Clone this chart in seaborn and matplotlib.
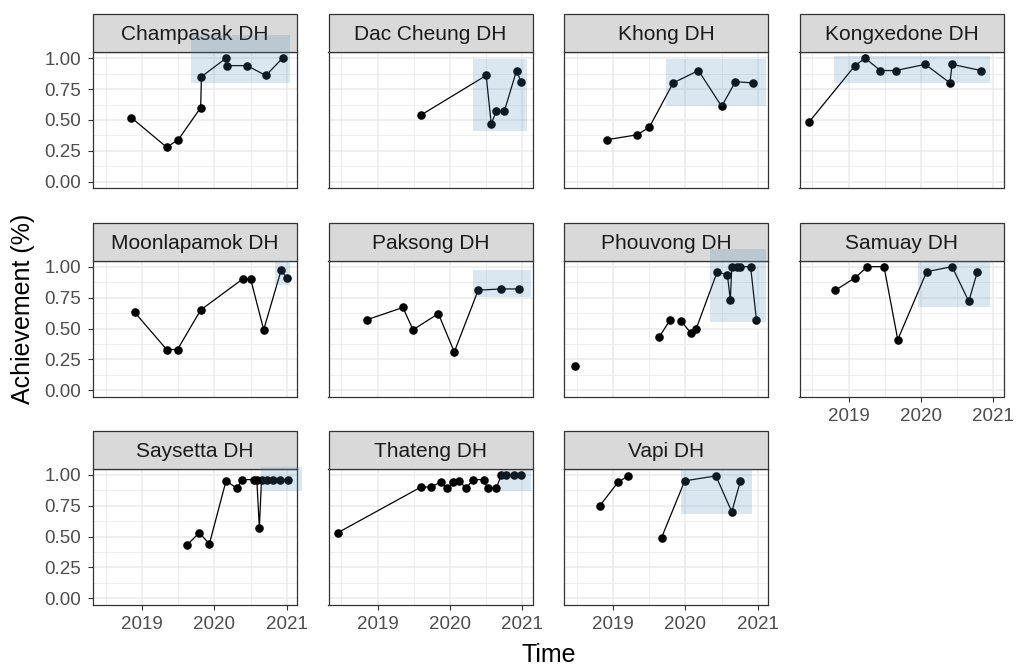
import matplotlib
matplotlib.use("Agg")
import matplotlib.pyplot as plt
from matplotlib.patches import Rectangle
from matplotlib.ticker import FixedLocator
import seaborn as sns
import numpy as np
import pandas as pd

# ---------------- data ----------------
districts = ["Champasak DH", "Dac Cheung DH", "Khong DH", "Kongxedone DH",
             "Moonlapamok DH", "Paksong DH", "Phouvong DH", "Samuay DH",
             "Saysetta DH", "Thateng DH", "Vapi DH"]

champasak_time = [2018.85, 2019.34, 2019.50, 2019.81, 2019.82, 2020.16, 2020.18, 2020.45, 2020.71, 2020.94]
champasak_value = [0.52, 0.28, 0.34, 0.60, 0.85, 1.00, 0.94, 0.94, 0.86, 1.00]
champasak_seg = [0] * 10

dac_time = [2019.60, 2020.50, 2020.57, 2020.64, 2020.75, 2020.92, 2020.98]
dac_value = [0.54, 0.86, 0.47, 0.57, 0.57, 0.90, 0.81]
dac_seg = [0] * 7

khong_time = [2018.91, 2019.33, 2019.50, 2019.83, 2020.18, 2020.50, 2020.69, 2020.93]
khong_value = [0.34, 0.38, 0.44, 0.80, 0.90, 0.61, 0.81, 0.80]
khong_seg = [0] * 8

kongx_time = [2018.45, 2019.09, 2019.23, 2019.44, 2019.65, 2020.06, 2020.40, 2020.43, 2020.83]
kongx_value = [0.48, 0.94, 1.00, 0.90, 0.90, 0.95, 0.80, 0.95, 0.90]
kongx_seg = [0] * 9

moon_time = [2018.90, 2019.34, 2019.49, 2019.81, 2020.39, 2020.50, 2020.68, 2020.92, 2021.00]
moon_value = [0.63, 0.33, 0.33, 0.65, 0.90, 0.90, 0.49, 0.97, 0.91]
moon_seg = [0] * 9

paksong_time = [2018.85, 2019.35, 2019.49, 2019.84, 2020.06, 2020.39, 2020.71, 2020.95]
paksong_value = [0.57, 0.67, 0.49, 0.62, 0.31, 0.81, 0.82, 0.82]
paksong_seg = [0] * 8

phouvong_time = [2018.48, 2019.635, 2019.79, 2019.94, 2020.08, 2020.15, 2020.44, 2020.58,
                 2020.62, 2020.64, 2020.71, 2020.76, 2020.90, 2020.98]
phouvong_value = [0.20, 0.43, 0.57, 0.56, 0.46, 0.50, 0.96, 0.93, 0.73, 1.00, 1.00, 1.00, 1.00, 0.57]
phouvong_seg = [0, 1, 1, 2, 2, 2, 2, 2, 2, 2, 2, 2, 2, 2]

samuay_time = [2018.82, 2019.09, 2019.26, 2019.49, 2019.68, 2020.08, 2020.43, 2020.66, 2020.78]
samuay_value = [0.81, 0.91, 1.00, 1.00, 0.41, 0.96, 1.00, 0.72, 0.96]
samuay_seg = [0] * 9

saysetta_time = [2019.62, 2019.79, 2019.93, 2020.16, 2020.31, 2020.385, 2020.54, 2020.585,
                 2020.62, 2020.65, 2020.72, 2020.81, 2020.91, 2021.01]
saysetta_value = [0.43, 0.53, 0.44, 0.95, 0.89, 0.96, 0.96, 0.96, 0.57, 0.96, 0.96, 0.96, 0.96, 0.96]
saysetta_seg = [0] * 14

thateng_time = [2018.45, 2019.60, 2019.74, 2019.87, 2019.96, 2020.04, 2020.13, 2020.22,
                2020.32, 2020.47, 2020.52, 2020.64, 2020.71, 2020.78, 2020.89, 2020.98]
thateng_value = [0.53, 0.90, 0.90, 0.94, 0.89, 0.94, 0.95, 0.89, 0.96, 0.96, 0.89, 0.89,
                 1.00, 1.00, 1.00, 1.00]
thateng_seg = [0] * 16

vapi_time = [2018.82, 2019.07, 2019.21, 2019.67, 2019.99, 2020.42, 2020.64, 2020.76]
vapi_value = [0.75, 0.94, 0.99, 0.49, 0.95, 0.99, 0.70, 0.95]
vapi_seg = [0, 0, 0, 1, 1, 1, 1, 1]

# highlighted windows: xmin, xmax, ymin, ymax
rect_xmin = [2019.68, 2020.32, 2019.73, 2018.80, 2020.84, 2020.32, 2020.34, 2019.96, 2020.64, 2020.69, 2019.94]
rect_xmax = [2021.04, 2021.07, 2021.11, 2020.95, 2021.04, 2021.12, 2021.11, 2020.95, 2021.21, 2021.12, 2020.92]
rect_ymin = [0.80, 0.41, 0.61, 0.80, 0.85, 0.755, 0.556, 0.67, 0.87, 0.87, 0.68]
rect_ymax = [1.19, 0.99, 0.99, 1.02, 1.05, 0.97, 1.14, 1.05, 1.06, 1.04, 1.05]

x_ticks = [2019, 2020, 2021]
x_ticklabels = ["2019", "2020", "2021"]
y_ticks = [0.00, 0.25, 0.50, 0.75, 1.00]
y_ticklabels = ["0.00", "0.25", "0.50", "0.75", "1.00"]

series = [
    (champasak_time, champasak_value, champasak_seg),
    (dac_time, dac_value, dac_seg),
    (khong_time, khong_value, khong_seg),
    (kongx_time, kongx_value, kongx_seg),
    (moon_time, moon_value, moon_seg),
    (paksong_time, paksong_value, paksong_seg),
    (phouvong_time, phouvong_value, phouvong_seg),
    (samuay_time, samuay_value, samuay_seg),
    (saysetta_time, saysetta_value, saysetta_seg),
    (thateng_time, thateng_value, thateng_seg),
    (vapi_time, vapi_value, vapi_seg),
]

frames = []
for name, (t, v, s) in zip(districts, series):
    frames.append(pd.DataFrame({"district": name, "time": t, "value": v, "seg": s}))
df = pd.concat(frames, ignore_index=True)

# ---------------- style ----------------
sns.set_theme(style="white")
plt.rcParams["font.family"] = ["Liberation Sans", "DejaVu Sans"]

W, H = 1019, 666
fig = plt.figure(figsize=(W / 100, H / 100), dpi=100)
fig.patch.set_facecolor("white")

col_left = [93, 328.5, 564, 799.5]
row_top = [52, 260.5, 468.5]
pw, ph = 204, 136
strip_h = 38

XLIM = (2018.323, 2021.14)
YLIM = (-0.05, 1.05)

bottom_of_col = {0: 2, 1: 2, 2: 2, 3: 1}

for i, name in enumerate(districts):
    r, c = divmod(i, 4)
    ax = fig.add_axes([col_left[c] / W, 1 - (row_top[r] + ph) / H, pw / W, ph / H])
    ax.set_facecolor("white")
    sub = df[df["district"] == name]

    sns.lineplot(data=sub, x="time", y="value", units="seg", estimator=None,
                 sort=False, color="black", linewidth=0.9, ax=ax, zorder=2)
    sns.scatterplot(data=sub, x="time", y="value", color="black", s=38,
                    linewidth=0, ax=ax, zorder=3)

    ax.add_patch(Rectangle((rect_xmin[i], rect_ymin[i]),
                           rect_xmax[i] - rect_xmin[i], rect_ymax[i] - rect_ymin[i],
                           facecolor="#4682B4", alpha=0.2, linewidth=0,
                           clip_on=False, zorder=8))

    ax.set_xlim(*XLIM)
    ax.set_ylim(*YLIM)
    ax.set_xticks(x_ticks)
    ax.set_yticks(y_ticks)
    ax.xaxis.set_minor_locator(FixedLocator([2018.5, 2019.5, 2020.5]))
    ax.yaxis.set_minor_locator(FixedLocator([0.125, 0.375, 0.625, 0.875]))
    ax.set_axisbelow(True)
    ax.grid(which="major", color="#EBEBEB", linewidth=1.1)
    ax.grid(which="minor", color="#EBEBEB", linewidth=0.55)
    ax.tick_params(which="minor", length=0)
    ax.set_xlabel("")
    ax.set_ylabel("")

    for sp in ax.spines.values():
        sp.set_color("#333333")
        sp.set_linewidth(0.9)

    show_y = (c == 0)
    show_x = (bottom_of_col[c] == r)
    ax.tick_params(axis="y", which="major", left=show_y, labelleft=show_y,
                   length=3.6, width=0.8, color="#333333", pad=5,
                   labelsize=13.5, labelcolor="#4D4D4D")
    ax.tick_params(axis="x", which="major", bottom=show_x, labelbottom=show_x,
                   length=3.6, width=0.8, color="#333333", pad=4.5,
                   labelsize=13.5, labelcolor="#4D4D4D")
    if show_y:
        ax.set_yticklabels(y_ticklabels)
    if show_x:
        ax.set_xticklabels(x_ticklabels)

    # facet strip
    ax.add_patch(Rectangle((0, 1), 1, strip_h / ph, transform=ax.transAxes,
                           facecolor="#D9D9D9", edgecolor="#333333", linewidth=0.9,
                           clip_on=False, zorder=5))
    ax.text(0.5, 1 + strip_h / 2 / ph, name, transform=ax.transAxes,
            ha="center", va="center_baseline", fontsize=15, color="#1A1A1A", zorder=6)

fig.text(548.5 / W, 1 - 655 / H, "Time", ha="center", va="center",
         fontsize=18, color="black")
fig.text(23 / W, 1 - 309 / H, "Achievement (%)", ha="center", va="center",
         rotation=90, fontsize=18, color="black")

fig.savefig("out.png", dpi=100, facecolor="white")
